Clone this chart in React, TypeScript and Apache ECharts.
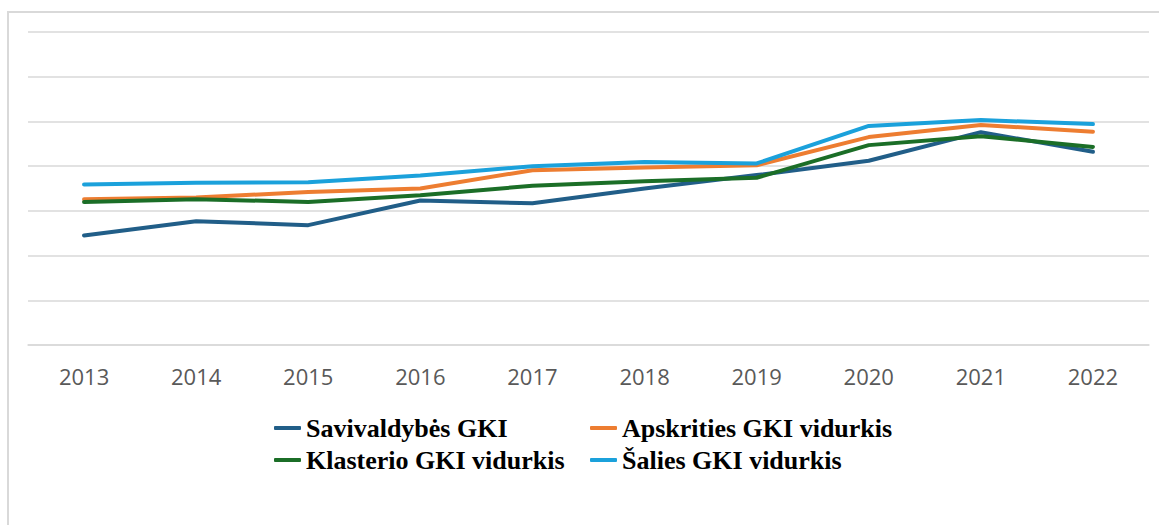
import React, { useEffect, useRef } from "react";
import * as echarts from "echarts";

const years = ["2013", "2014", "2015", "2016", "2017", "2018", "2019", "2020", "2021", "2022"];
const savivaldybes = [24.5, 27.7, 26.8, 32.3, 31.7, 35.0, 38.0, 41.2, 47.6, 43.2];
const apskrities = [32.6, 33.0, 34.2, 35.0, 39.1, 39.7, 40.2, 46.5, 49.2, 47.7];
const klasterio = [32.0, 32.6, 32.0, 33.5, 35.6, 36.6, 37.4, 44.7, 46.7, 44.3];
const salies = [35.9, 36.3, 36.4, 37.9, 40.0, 40.9, 40.6, 49.0, 50.3, 49.4];

const names = [
  "Savivaldybės GKI",
  "Apskrities GKI vidurkis",
  "Klasterio GKI vidurkis",
  "Šalies GKI vidurkis",
];
const colors = ["#215E88", "#ED7D31", "#1B6E27", "#1BA1DB"];

export default function App() {
  const ref = useRef<HTMLDivElement>(null);
  useEffect(() => {
    if (!ref.current) return;
    const chart = echarts.init(ref.current, undefined, { renderer: "svg" });
    const legendText = {
      fontFamily: "'Liberation Serif', 'Times New Roman', serif",
      fontWeight: "bold" as const,
      fontSize: 26,
      color: "#000000",
      lineHeight: 30,
    };
    const legendBase = {
      orient: "horizontal" as const,
      padding: 0,
      itemWidth: 27,
      itemHeight: 4,
      icon: "roundRect",
      textStyle: legendText,
    };
    const legendPos = [
      { left: 274, top: 413 },
      { left: 590, top: 413 },
      { left: 274, top: 445 },
      { left: 590, top: 445 },
    ];
    const dataSets = [savivaldybes, apskrities, klasterio, salies];
    chart.setOption({
      animation: false,
      backgroundColor: "#ffffff",
      color: colors,
      grid: { left: 28, right: 10, top: 32, bottom: 180, containLabel: false },
      xAxis: {
        type: "category",
        data: years,
        boundaryGap: true,
        axisLine: { show: true, lineStyle: { color: "#d9d9d9", width: 1.5 } },
        axisTick: { show: false },
        axisLabel: {
          color: "#595959",
          fontFamily: "'Open Sans', 'Noto Sans', sans-serif",
          fontSize: 22,
          margin: 20,
        },
      },
      yAxis: {
        type: "value",
        min: 0,
        max: 70,
        interval: 10,
        axisLabel: { show: false },
        axisLine: { show: false },
        axisTick: { show: false },
        splitLine: { show: true, lineStyle: { color: "#d9d9d9", width: 1.5 } },
      },
      legend: legendPos.map((p, i) => ({
        ...legendBase,
        ...p,
        data: [names[i]],
      })),
      graphic: [
        {
          type: "rect",
          shape: { x: 8, y: 12, width: 1300, height: 700 },
          style: { fill: "none", stroke: "#d9d9d9", lineWidth: 2 },
          silent: true,
        },
      ],
      series: dataSets.map((d, i) => ({
        name: names[i],
        type: "line",
        data: d,
        symbol: "none",
        lineStyle: { width: 4, color: colors[i], cap: "round", join: "round" },
        itemStyle: { color: colors[i] },
        z: 2 + (i === 0 ? 0 : i),
      })),
    });
    return () => chart.dispose();
  }, []);
  return (
    <div
      ref={ref}
      style={{ position: "fixed", left: 0, top: 0, width: 1159, height: 525 }}
    />
  );
}
